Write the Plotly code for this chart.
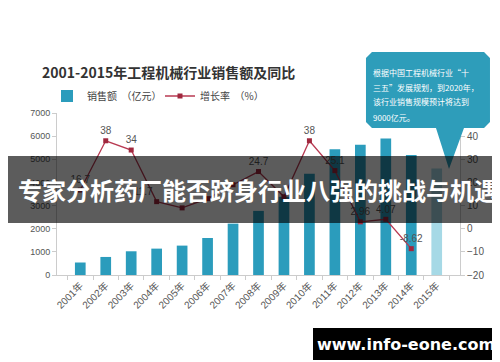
import plotly.graph_objects as go

years = ["2001年", "2002年", "2003年", "2004年", "2005年", "2006年", "2007年", "2008年",
         "2009年", "2010年", "2011年", "2012年", "2013年", "2014年", "2015年"]
sales = [540, 780, 1025, 1140, 1270, 1600, 2220, 2770, 3380, 4370, 5430, 5630, 5900, 5190, 4600]
growth = [16.7, 38, 34, 11.7, 9.0, 13.0, 19.0, 24.7, 13.8, 38, 25.1, 2.96, 4.07, -8.62, None]
growth_labels = ["16.7", "38", "34", "11.7", "", "", "", "24.7", "", "38", "25.1", "2.96", "4.07", "-8.62", ""]
label_pos = ["top center", "top center", "top center", "top left", "top center", "top center",
             "top center", "top center", "top center", "top center", "top center", "top center",
             "top center", "top center", "top center"]

title_text = "2001-2015年工程机械行业销售额及同比"
callout_lines = ["根据中国工程机械行业“十", "三五”发展规划，到2020年，", "该行业销售规模预计将达到", "9000亿元。"]
banner_text = "专家分析药厂能否跻身行业八强的挑战与机遇"
watermark = "www.info-eone.com"

W, H = 500, 362
L, R, T, B = 49, 48, 105, 95
PW, PH = W - L - R, H - T - B

def px(x):
    return (x - L) / PW

def py(y):
    return (H - B - y) / PH

CJK = "Noto Sans CJK SC, Liberation Sans, sans-serif"
NUM = "Liberation Sans, Noto Sans CJK SC, sans-serif"

bar_colors = ["#2b9cbc"] * (len(years) - 1) + ["#a6d9e6"]

fig = go.Figure()
fig.add_trace(go.Bar(
    x=years, y=sales, name="销售额  （亿元）",
    marker=dict(color=bar_colors, line=dict(width=0)),
    yaxis="y",
))
fig.add_trace(go.Scatter(
    x=years, y=growth, name="增长率  （%）", yaxis="y2",
    mode="lines+markers+text",
    line=dict(color="#b83a52", width=1.3),
    marker=dict(symbol="square", size=5, color="#a0283e"),
    text=growth_labels, textposition=label_pos,
    textfont=dict(family=NUM, size=10, color="#555555"),
    cliponaxis=False,
))

shapes = []
# callout bubble
pts = [(364, 44), (476, 44), (482, 50), (482, 114), (476, 120), (456, 120), (441, 161),
       (428, 120), (364, 120), (358, 114), (358, 50)]
path = "M " + " L ".join(f"{px(x):.4f},{py(y):.4f}" for x, y in pts) + " Z"
shapes.append(dict(type="path", xref="paper", yref="paper", path=path,
                   fillcolor="#2e9dba", line=dict(width=0), layer="above"))
# dark banner
shapes.append(dict(type="rect", xref="paper", yref="paper",
                   x0=px(0), x1=px(500), y0=py(148), y1=py(215),
                   fillcolor="rgba(0,0,0,0.64)", line=dict(width=0), layer="above"))
# watermark box
shapes.append(dict(type="rect", xref="paper", yref="paper",
                   x0=px(305), x1=px(491), y0=py(320), y1=py(352),
                   fillcolor="#000000", line=dict(width=0), layer="above"))

annotations = [
    dict(text=f"<b>{title_text}</b>", xref="paper", yref="paper", x=px(160), y=py(64),
         xanchor="center", yanchor="middle", showarrow=False,
         font=dict(family=CJK, size=14, color="#333333")),
    dict(text=f"<b>{banner_text}</b>", xref="paper", yref="paper", x=px(250), y=py(181),
         xanchor="center", yanchor="middle", showarrow=False, borderpad=0,
         font=dict(family=CJK, size=24, color="#ffffff")),
    dict(text=f"<b>{watermark}</b>", xref="paper", yref="paper", x=px(398), y=py(336),
         xanchor="center", yanchor="middle", showarrow=False,
         font=dict(family="DejaVu Sans, sans-serif", size=16, color="#ffffff")),
]
for i, line in enumerate(callout_lines):
    annotations.append(dict(text=line, xref="paper", yref="paper", x=px(363), y=py(64 + 15 * i),
                            xanchor="left", yanchor="middle", showarrow=False,
                            font=dict(family=CJK, size=8, color="#ffffff")))

fig.update_layout(
    width=W, height=H, autosize=False,
    margin=dict(l=L, r=R, t=T, b=B, pad=0),
    paper_bgcolor="white", plot_bgcolor="white",
    bargap=0.58,
    showlegend=True,
    legend=dict(orientation="h", x=px(39), y=py(88), xanchor="left", yanchor="middle",
                font=dict(family=CJK, size=10, color="#444444"), bgcolor="rgba(0,0,0,0)",
                itemwidth=30, tracegroupgap=0, entrywidth=68, entrywidthmode="pixels"),
    xaxis=dict(type="category", showgrid=False, showline=True, linecolor="#cccccc",
               ticks="outside", tickson="boundaries", ticklen=4, tickcolor="#cccccc",
               tickangle=-45, tickfont=dict(family=NUM, size=10, color="#555555")),
    yaxis=dict(range=[0, 7000], dtick=1000, showgrid=False, zeroline=False,
               showline=True, linecolor="#cccccc", ticks="outside", ticklen=4,
               tickcolor="#cccccc", tickfont=dict(family=NUM, size=9, color="#555555")),
    yaxis2=dict(range=[-20, 50], dtick=10, overlaying="y", side="right", showgrid=False,
                zeroline=False, showline=True, linecolor="#cccccc", ticks="outside",
                ticklen=4, tickcolor="#cccccc",
                tickfont=dict(family=NUM, size=10, color="#555555")),
    shapes=shapes,
    annotations=annotations,
)

fig.write_html("out.html")
